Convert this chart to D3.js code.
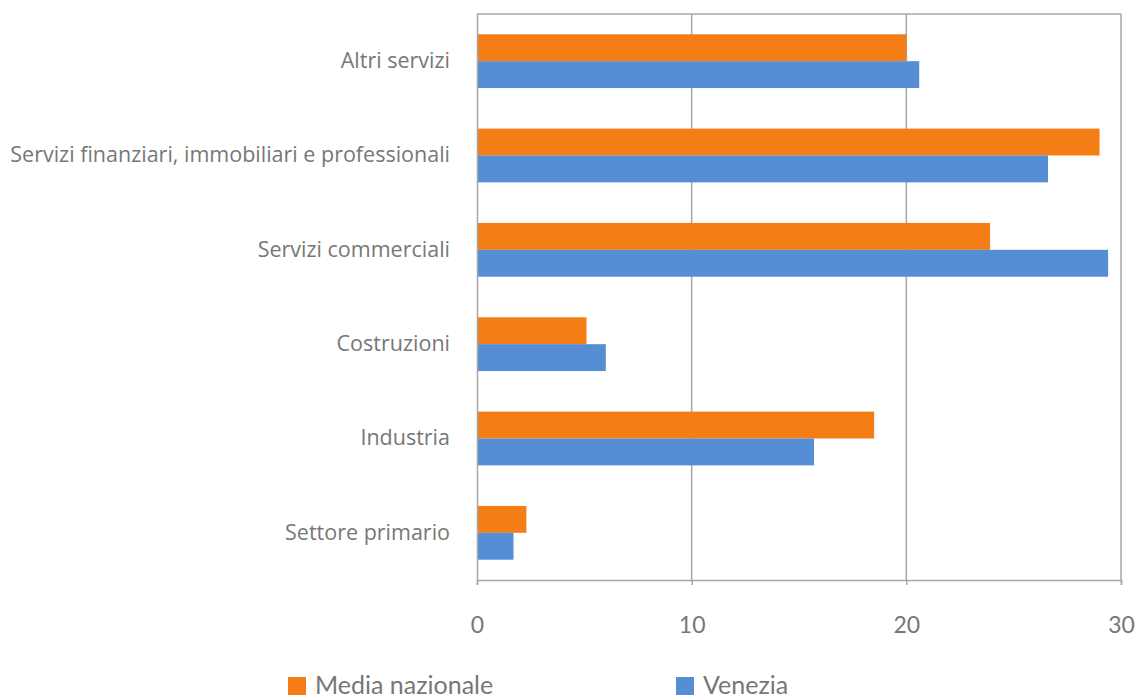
<!DOCTYPE html>
<html><head><meta charset="utf-8">
<script src="https://cdn.jsdelivr.net/npm/d3@7"></script>
<style>body{margin:0;background:#fff}svg{display:block}</style>
</head><body>
<script>
const categories = ["Altri servizi","Servizi finanziari, immobiliari e professionali","Servizi commerciali","Costruzioni","Industria","Settore primario"];
const seriesNames = ["Media nazionale","Venezia"];
const mediaNazionale = [20.0, 29.0, 23.9, 5.1, 18.5, 2.3];
const venezia = [20.6, 26.6, 29.4, 6.0, 15.7, 1.7];
const xTicks = [0, 10, 20, 30];
const colors = ["#F47D15", "#558ED5"];

const W = 1142, H = 698;
const m = {left: 477, right: 21, top: 14, bottom: 118};
const font = "Lato, 'Open Sans', sans-serif";
const catFont = "'Open Sans', sans-serif";
const txt = "#777777";
const grid = "#A6A6A6";

const svg = d3.select("body").append("svg").attr("width", W).attr("height", H);
const x = d3.scaleLinear().domain([0, 30]).range([m.left, W - m.right]);
const y = d3.scaleBand().domain(categories).range([m.top, H - m.bottom]).paddingInner(0.43).paddingOuter(0.215);
const ySub = d3.scaleBand().domain(seriesNames).range([0, y.bandwidth()]);

// gridlines
svg.append("g").selectAll("line").data(xTicks.slice(1)).join("line")
  .attr("x1", d => x(d)).attr("x2", d => x(d))
  .attr("y1", m.top).attr("y2", H - m.bottom)
  .attr("stroke", grid).attr("stroke-width", 1.5);
// top border
svg.append("line").attr("x1", m.left).attr("x2", W - m.right).attr("y1", m.top).attr("y2", m.top)
  .attr("stroke", grid).attr("stroke-width", 1.5);

// bars
const data = categories.map((c, i) => ({c, vals: [mediaNazionale[i], venezia[i]]}));
const g = svg.append("g").selectAll("g").data(data).join("g")
  .attr("transform", d => `translate(0,${y(d.c)})`);
g.selectAll("rect").data(d => d.vals.map((v, j) => ({v, s: seriesNames[j], j}))).join("rect")
  .attr("x", x(0)).attr("y", d => ySub(d.s))
  .attr("width", d => x(d.v) - x(0)).attr("height", ySub.bandwidth())
  .attr("fill", d => colors[d.j]);

// axes
const xAxis = svg.append("g").attr("transform", `translate(0,${H - m.bottom})`)
  .call(d3.axisBottom(x).tickValues(xTicks).tickSize(5).tickPadding(32));
xAxis.select(".domain").attr("stroke", grid).attr("stroke-width", 1.5);
xAxis.selectAll(".tick line").attr("stroke", grid).attr("stroke-width", 1.5);
xAxis.selectAll("text").attr("fill", txt).style("font-family", font).style("font-size", "23px");

const yAxis = svg.append("g").attr("transform", `translate(${m.left},0)`)
  .call(d3.axisLeft(y).tickSize(0).tickPadding(27));
yAxis.select(".domain").attr("stroke", grid).attr("stroke-width", 1.5);
yAxis.selectAll("text").attr("fill", txt).style("font-family", catFont).style("font-size", "21.5px");

// legend
const legendX = [288, 676];
const lg = svg.append("g").selectAll("g").data(seriesNames).join("g")
  .attr("transform", (d, i) => `translate(${legendX[i]},677)`);
lg.append("rect").attr("width", 18).attr("height", 18).attr("fill", (d, i) => colors[i]);
lg.append("text").attr("x", 27).attr("y", 17).text(d => d)
  .attr("fill", txt).style("font-family", font).style("font-size", "25px");
</script>
</body></html>
